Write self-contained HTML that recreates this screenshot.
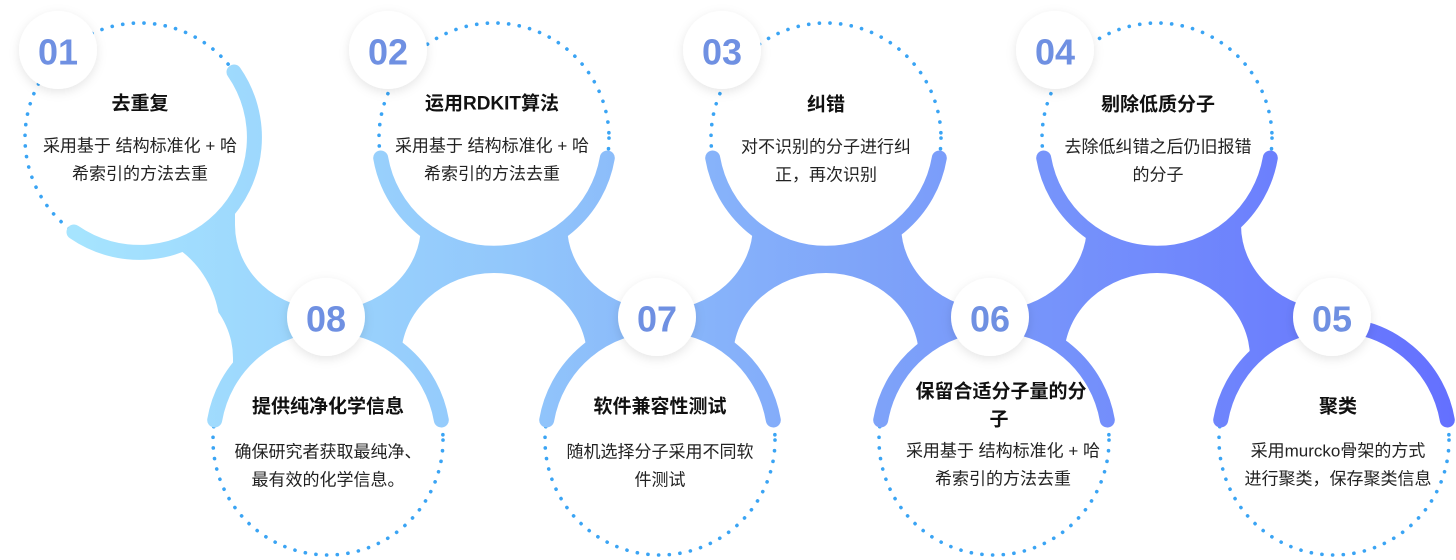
<!DOCTYPE html>
<html><head><meta charset="utf-8"><style>
html,body{margin:0;padding:0;background:#fff;}
svg{display:block;}
text{font-family:"Liberation Sans","Noto Sans CJK SC",sans-serif;}
.t{font-size:19px;font-weight:bold;fill:#111;}
.b{font-size:17px;fill:#222;}
.n{font-size:36px;font-weight:bold;fill:#6f90e2;}
</style></head><body>
<svg width="1456" height="560" viewBox="0 0 1456 560" xmlns="http://www.w3.org/2000/svg">
<defs>
<linearGradient id="g" gradientUnits="userSpaceOnUse" x1="0" y1="0" x2="1456" y2="0">
<stop offset="0" stop-color="#a9e9ff"/>
<stop offset="0.35" stop-color="#92c7fb"/>
<stop offset="0.6" stop-color="#7ea3f9"/>
<stop offset="1" stop-color="#6470ff"/>
</linearGradient>
<mask id="m" maskUnits="userSpaceOnUse" x="0" y="0" width="1456" height="560">
<rect x="0" y="0" width="1456" height="560" fill="#000"/>
<rect x="175" y="138" width="1245" height="302" fill="#fff"/>
<g fill="#000">
<circle cx="140" cy="138" r="115"/><circle cx="494" cy="138" r="115"/><circle cx="826" cy="138" r="115"/><circle cx="1157" cy="138" r="115"/>
<circle cx="328" cy="440" r="115"/><circle cx="660" cy="440" r="115"/><circle cx="994" cy="440" r="115"/><circle cx="1334" cy="440" r="115"/>
<ellipse cx="328" cy="225" rx="93" ry="85"/><rect x="235" y="0" width="186" height="225"/>
<ellipse cx="660" cy="225" rx="93" ry="85"/><rect x="567" y="0" width="186" height="225"/>
<ellipse cx="994" cy="225" rx="93" ry="85"/><rect x="901" y="0" width="186" height="225"/>
<ellipse cx="1334" cy="225" rx="93" ry="85"/><rect x="1241" y="0" width="186" height="225"/>
<ellipse cx="140" cy="358" rx="93" ry="85"/><rect x="47" y="358" width="186" height="202"/>
<ellipse cx="494" cy="358" rx="93" ry="85"/><rect x="401" y="358" width="186" height="202"/>
<ellipse cx="826" cy="358" rx="93" ry="85"/><rect x="733" y="358" width="186" height="202"/>
<ellipse cx="1157" cy="358" rx="93" ry="85"/><rect x="1064" y="358" width="186" height="202"/>
<circle cx="120" cy="330" r="100"/>
<rect x="1334" y="0" width="122" height="440"/>
</g>
</mask>
<filter id="sh" x="-50%" y="-50%" width="200%" height="200%">
<feDropShadow dx="0" dy="3" stdDeviation="5" flood-color="#000" flood-opacity="0.10"/>
</filter>
</defs>

<g fill="none" stroke="#3aa4f4" stroke-width="3.6" stroke-linecap="round" stroke-dasharray="0.1 10.6">
<circle cx="140" cy="138" r="115"/><circle cx="494" cy="138" r="115"/><circle cx="826" cy="138" r="115"/><circle cx="1157" cy="138" r="115"/>
<circle cx="328" cy="440" r="115"/><circle cx="660" cy="440" r="115"/><circle cx="994" cy="440" r="115"/><circle cx="1334" cy="440" r="115"/>
</g>

<rect x="0" y="0" width="1456" height="560" fill="url(#g)" mask="url(#m)"/>

<g fill="none" stroke="url(#g)" stroke-width="15" stroke-linecap="round">
<path d="M74 232 A115 115 0 0 0 234 72"/>
<path d="M380.7 158 A115 115 0 0 0 607.3 158"/>
<path d="M712.7 158 A115 115 0 0 0 939.3 158"/>
<path d="M1043.7 158 A115 115 0 0 0 1270.3 158"/>
<path d="M214.7 420 A115 115 0 0 1 441.3 420"/>
<path d="M546.7 420 A115 115 0 0 1 773.3 420"/>
<path d="M880.7 420 A115 115 0 0 1 1107.3 420"/>
<path d="M1220.7 420 A115 115 0 0 1 1447.3 420"/>
</g>

<g fill="#fff" filter="url(#sh)">
<circle cx="58" cy="50" r="39"/><circle cx="388" cy="50" r="39"/><circle cx="722" cy="50" r="39"/><circle cx="1055" cy="50" r="39"/>
<circle cx="326" cy="317" r="39"/><circle cx="657" cy="317" r="39"/><circle cx="990" cy="317" r="39"/><circle cx="1332" cy="317" r="39"/>
</g>
<g text-anchor="middle" dominant-baseline="central">
<text class="n" x="58" y="52">01</text><text class="n" x="388" y="52">02</text><text class="n" x="722" y="52">03</text><text class="n" x="1055" y="52">04</text>
<text class="n" x="326" y="319">08</text><text class="n" x="657" y="319">07</text><text class="n" x="990" y="319">06</text><text class="n" x="1332" y="319">05</text>
</g>

<g text-anchor="middle" dominant-baseline="central">
<text class="t" x="140" y="104">去重复</text>
<text class="b" x="140" y="146">采用基于 结构标准化 + 哈</text>
<text class="b" x="140" y="174">希索引的方法去重</text>

<text class="t" x="492" y="104">运用RDKIT算法</text>
<text class="b" x="492" y="146">采用基于 结构标准化 + 哈</text>
<text class="b" x="492" y="174">希索引的方法去重</text>

<text class="t" x="826" y="105">纠错</text>
<text class="b" x="826" y="147">对不识别的分子进行纠</text>
<text class="b" x="826" y="175">正，再次识别</text>

<text class="t" x="1158" y="105">剔除低质分子</text>
<text class="b" x="1158" y="147">去除低纠错之后仍旧报错</text>
<text class="b" x="1158" y="175">的分子</text>

<text class="t" x="328" y="407">提供纯净化学信息</text>
<text class="b" x="328" y="452">确保研究者获取最纯净、</text>
<text class="b" x="328" y="480">最有效的化学信息。</text>

<text class="t" x="660" y="407">软件兼容性测试</text>
<text class="b" x="660" y="452">随机选择分子采用不同软</text>
<text class="b" x="660" y="480">件测试</text>

<text class="t" x="1001" y="392">保留合适分子量的分</text>
<text class="t" x="999" y="420">子</text>
<text class="b" x="1003" y="451">采用基于 结构标准化 + 哈</text>
<text class="b" x="1003" y="479">希索引的方法去重</text>

<text class="t" x="1338" y="407">聚类</text>
<text class="b" x="1338" y="451">采用murcko骨架的方式</text>
<text class="b" x="1338" y="479">进行聚类，保存聚类信息</text>
</g>
</svg>
</body></html>
